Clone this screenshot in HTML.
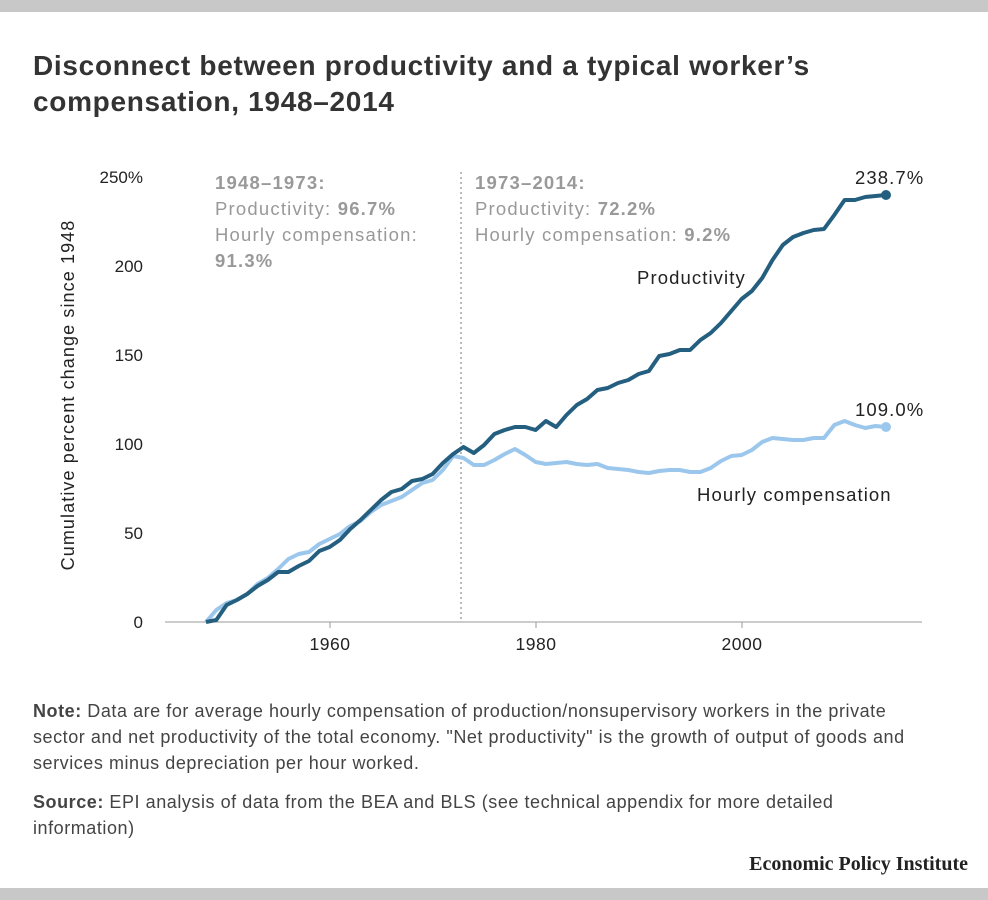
<!DOCTYPE html>
<html><head><meta charset="utf-8"><style>
body{margin:0;width:988px;height:900px;background:#fff;font-family:"Liberation Sans",sans-serif;position:relative;overflow:hidden;color:#333}
.bar{position:absolute;left:0;width:988px;height:12px;background:#c8c8c8}
h1{position:absolute;left:33px;top:48px;margin:0;font-size:28px;letter-spacing:0.7px;line-height:36px;font-weight:bold;color:#333;width:930px}
.note{position:absolute;left:33px;font-size:18px;letter-spacing:0.55px;line-height:26px;color:#444;width:905px}
.epi{position:absolute;right:20px;top:853px;font-family:"Liberation Serif",serif;font-weight:bold;font-size:20px;color:#222}
</style></head><body>
<div class="bar" style="top:0"></div>
<div class="bar" style="top:888px"></div>
<h1>Disconnect between productivity and a typical worker’s<br>compensation, 1948–2014</h1>
<svg width="988" height="900" style="position:absolute;left:0;top:0" font-family="Liberation Sans, sans-serif">
<g fill="#222" font-size="17" text-anchor="end">
<text x="143" y="183">250%</text><text x="143" y="272">200</text><text x="143" y="361">150</text>
<text x="143" y="450">100</text><text x="143" y="539">50</text><text x="143" y="628">0</text>
</g>
<text transform="translate(74,395) rotate(-90)" text-anchor="middle" font-size="18" letter-spacing="1.1" fill="#222">Cumulative percent change since 1948</text>
<line x1="165" y1="622" x2="922" y2="622" stroke="#999" stroke-width="1"/>
<g stroke="#999"><line x1="330" y1="622" x2="330" y2="628"/><line x1="536" y1="622" x2="536" y2="628"/><line x1="742" y1="622" x2="742" y2="628"/></g>
<g fill="#222" font-size="17.5" letter-spacing="0.5" text-anchor="middle"><text x="330" y="650">1960</text><text x="536" y="650">1980</text><text x="742" y="650">2000</text></g>
<line x1="461" y1="172" x2="461" y2="620" stroke="#bbb" stroke-width="2" stroke-dasharray="2,3"/>
<g font-size="18.5" letter-spacing="1.2" fill="#999">
<text x="215" y="189" font-weight="bold">1948–1973:</text>
<text x="215" y="215">Productivity: <tspan font-weight="bold">96.7%</tspan></text>
<text x="215" y="241">Hourly compensation:</text>
<text x="215" y="267" font-weight="bold">91.3%</text>
<text x="475" y="189" font-weight="bold">1973–2014:</text>
<text x="475" y="215">Productivity: <tspan font-weight="bold">72.2%</tspan></text>
<text x="475" y="241">Hourly compensation: <tspan font-weight="bold">9.2%</tspan></text>
</g>
<polyline fill="none" stroke="#9cc7ec" stroke-width="4" stroke-linejoin="round" id="c" points=""/>
<polyline fill="none" stroke="#245f80" stroke-width="4" stroke-linejoin="round" id="p" points=""/>
<circle cx="886" cy="195" r="5" fill="#245f80"/>
<circle cx="886" cy="427" r="5" fill="#9cc7ec"/>
<g font-size="18.5" letter-spacing="1.1" fill="#222">
<text x="855" y="184">238.7%</text><text x="855" y="416">109.0%</text>
<text x="637" y="284">Productivity</text><text x="697" y="501">Hourly compensation</text>
</g>
</svg>
<div class="note" style="top:698px"><b>Note:</b> Data are for average hourly compensation of production/nonsupervisory workers in the private sector and net productivity of the total economy. "Net productivity" is the growth of output of goods and services minus depreciation per hour worked.</div>
<div class="note" style="top:789px"><b>Source:</b> EPI analysis of data from the BEA and BLS (see technical appendix for more detailed information)</div>
<div class="epi">Economic Policy Institute</div>
<script>
var p=[622,620,605,600,594,586,580,572,572,566,561,551,547,540,529,520,510,500,492,489,481,479,474,463,454,447,453,445,434,430,427,427,430,421,427,415,405,399,390,388,383,380,374,371,356,354,350,350,340,333,323,311,299,291,278,260,245,237,233,230,229,215,200,200,197,196,195];
var c=[622,610,603,600,594,584,578,569,559,554,552,544,539,534,526,521,512,505,501,497,490,483,480,470,456,458,465,465,460,454,449,455,462,464,463,462,464,465,464,468,469,470,472,473,471,470,470,472,472,468,461,456,455,450,442,438,439,440,440,438,438,425,421,425,428,426,427];
function pts(a){return a.map(function(y,i){return (206+i*10.3).toFixed(1)+","+y}).join(" ")}
document.getElementById("p").setAttribute("points",pts(p));
document.getElementById("c").setAttribute("points",pts(c));
</script>
</body></html>
